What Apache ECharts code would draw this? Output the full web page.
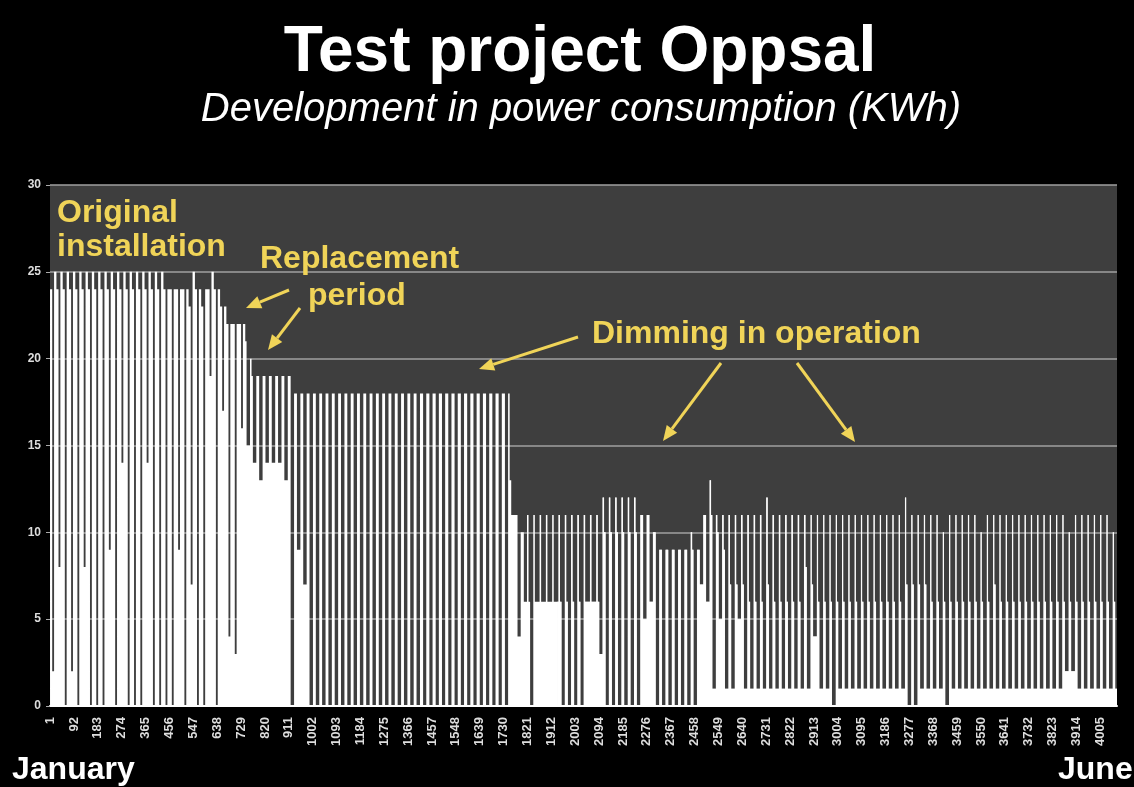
<!DOCTYPE html>
<html>
<head>
<meta charset="utf-8">
<title>Test project Oppsal</title>
<script src="https://cdn.jsdelivr.net/npm/echarts@6/dist/echarts.min.js"></script>
<style>
  html, body { margin: 0; padding: 0; background: #000; }
  #main { width: 1134px; height: 787px; }
</style>
</head>
<body>
<div id="main"></div>
<script>
// readings per day (day 0 = 1 January), KWh
// evening part of the night
const nightPeak = [
  25,25,25,25,25,25,25,25,25,25,
  25,25,25,25,25,25,25,25,24,24,
  24,24,25,24,24,25,24,23,22,22,
  22,20,19,19,19,19,19,19,18,18,
  18,18,18,18,18,18,18,18,18,18,
  18,18,18,18,18,18,18,18,18,18,
  18,18,18,18,18,18,18,18,18,18,
  18,18,18,11,10,11,11,11,11,11,
  11,11,11,11,11,11,11,12,12,12,
  12,12,12,11,11,10,9,9,9,9,
  9,10,9,11,13,11,11,11,11,11,
  11,11,11,12,11,11,11,11,11,11,
  11,11,11,11,11,11,11,11,11,11,
  11,11,11,11,11,12,11,11,11,11,
  11,10,11,11,11,11,11,10,11,11,
  11,11,11,11,11,11,11,11,11,11,
  11,10,11,11,11,11,11,11,10,11
];
// morning part of the night (dimmed level)
const nightDim = [
  24,24,24,24,24,24,24,24,24,24,
  24,24,24,24,24,24,24,24,24,24,
  24,23,24,23,24,24,23,22,22,22,
  21,19,19,19,19,19,19,19,18,18,
  18,18,18,18,18,18,18,18,18,18,
  18,18,18,18,18,18,18,18,18,18,
  18,18,18,18,18,18,18,18,18,18,
  18,18,13,11,10,6,6,6,6,6,
  6,6,6,6,6,6,6,10,10,10,
  10,10,10,11,11,10,9,9,9,9,
  9,9,9,11,11,10,9,7,7,7,
  6,6,6,7,6,6,6,6,6,8,
  7,6,6,6,6,6,6,6,6,6,
  6,6,6,6,6,7,7,7,7,6,
  6,6,6,6,6,6,6,6,6,7,
  6,6,6,6,6,6,6,6,6,6,
  6,6,6,6,6,6,6,6,6,6
];
// daytime level
const dayLow = [
  2,8,0,2,0,8,0,0,0,9,
  0,14,0,0,0,14,0,0,0,0,
  9,0,7,0,0,19,0,17,4,3,
  16,15,14,13,14,14,14,13,0,9,
  7,0,0,0,0,0,0,0,0,0,
  0,0,0,0,0,0,0,0,0,0,
  0,0,0,0,0,0,0,0,0,0,
  0,0,0,11,4,6,0,6,6,6,
  6,0,0,0,0,6,6,3,0,0,
  0,0,0,0,5,6,0,0,0,0,
  0,0,0,7,6,1,5,1,1,5,
  1,1,1,1,1,1,1,1,1,1,
  1,4,1,1,0,1,1,1,1,1,
  1,1,1,1,1,1,0,0,1,1,
  1,1,0,1,1,1,1,1,1,1,
  1,1,1,1,1,1,1,1,1,1,
  1,2,2,1,1,1,1,1,1,1
];
const monthDays = [31, 28, 31, 30, 31, 30];
const nightHours = [16, 10, 11, 10, 9, 9];   // lit hours per night, Jan..Jun
const totalHours = 4068;
const yTicks = [0, 5, 10, 15, 20, 25, 30];

function monthOf(day) {
  let m = 0, acc = monthDays[0];
  while (day >= acc && m < monthDays.length - 1) { m++; acc += monthDays[m]; }
  return m;
}

// hourly table for the category axis
const hours = [];
const consumption = [];
for (let i = 0; i < totalHours; i++) {
  const d = Math.floor(i / 24), h = i % 24;
  const half = nightHours[monthOf(d)] / 2;
  let v;
  if (h < half) v = nightDim[Math.max(d - 1, 0)];
  else if (h >= 24 - half) v = nightPeak[d];
  else v = dayLow[d];
  hours.push(String(i + 1));
  consumption.push(v);
}

const yellow = '#f0d458';
const font = '"Liberation Sans", Arial, sans-serif';

function label(text, x, y, size, color, extra) {
  return {
    type: 'text', x: x, y: y, z: 100,
    style: Object.assign({
      text: text, fill: color, font: 'bold ' + size + 'px ' + font,
      textAlign: 'left', textVerticalAlign: 'middle'
    }, extra || {})
  };
}

function arrow(x1, y1, x2, y2) {
  const a = Math.atan2(y2 - y1, x2 - x1);
  const len = 15, w = 6.5;
  const bx = x2 - len * Math.cos(a), by = y2 - len * Math.sin(a);
  return [
    { type: 'line', z: 100, shape: { x1: x1, y1: y1, x2: bx, y2: by },
      style: { stroke: yellow, lineWidth: 3 } },
    { type: 'polygon', z: 100,
      shape: { points: [[x2, y2], [bx + w * Math.sin(a), by - w * Math.cos(a)], [bx - w * Math.sin(a), by + w * Math.cos(a)]] },
      style: { fill: yellow } }
  ];
}

const chart = echarts.init(document.getElementById('main'));

const option = {
  backgroundColor: '#000',
  animation: false,
  grid: {
    left: 50, right: 17, top: 185, bottom: 81,
    show: true, backgroundColor: '#3e3e3e', borderWidth: 0
  },
  xAxis: {
    type: 'category',
    data: hours,
    axisLine: { show: true, lineStyle: { color: '#ffffff', width: 2 } },
    axisTick: { show: false },
    axisLabel: {
      interval: 90, rotate: 90, margin: 11,
      color: '#dddddd', fontSize: 13, fontWeight: 'bold', fontFamily: font
    },
    splitLine: { show: false }
  },
  yAxis: {
    type: 'value',
    min: yTicks[0], max: yTicks[yTicks.length - 1], interval: 5,
    axisLine: { show: false },
    axisTick: { show: true, length: 4, lineStyle: { color: '#aaaaaa' } },
    axisLabel: { color: '#dddddd', fontSize: 12, fontWeight: 'bold', fontFamily: font, margin: 9 },
    splitLine: { show: true, lineStyle: { color: '#a0a0a0', width: 1.5 } }
  },
  series: [{
    type: 'bar',
    data: consumption,
    barCategoryGap: '0%',
    barGap: '0%',
    large: true,
    largeThreshold: 400,
    silent: true,
    itemStyle: { color: '#ffffff' }
  }],
  graphic: [
    label('Test project Oppsal', 580, 53, 64, '#ffffff', { textAlign: 'center' }),
    label('Development in power consumption (KWh)', 581, 110, 40, '#ffffff',
      { textAlign: 'center', font: 'italic 40px ' + font }),
    label('Original', 57, 213, 32, yellow),
    label('installation', 57, 247, 32, yellow),
    label('Replacement', 260, 259, 32, yellow),
    label('period', 308, 296, 32, yellow),
    label('Dimming in operation', 592, 334, 32, yellow),
    label('January', 12, 770, 32, '#ffffff'),
    label('June', 1058, 770, 32, '#ffffff')
  ].concat(
    arrow(289, 290, 246, 308),
    arrow(300, 308, 268, 350),
    arrow(578, 337, 479, 369),
    arrow(721, 363, 663, 441),
    arrow(797, 363, 855, 442)
  )
};

chart.setOption(option);
</script>
</body>
</html>
